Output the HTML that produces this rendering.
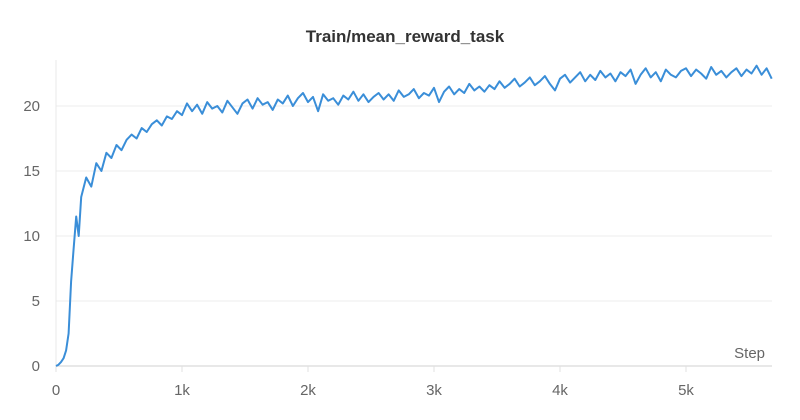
<!DOCTYPE html>
<html><head><meta charset="utf-8"><style>
body{margin:0;background:#fff;}
svg{display:block;font-family:"Liberation Sans",sans-serif;}
</style></head><body>
<svg id="chart" width="800" height="420">
<text x="405" y="42" text-anchor="middle" font-size="17" font-weight="bold" fill="#333">Train/mean_reward_task</text>
<g id="grid"></g>
<g id="axes"></g>
<path id="line" fill="none" stroke="#3a8ed8" stroke-width="2" stroke-linejoin="round"></path>
<text x="765" y="358" text-anchor="end" font-size="15" fill="#666">Step</text>
</svg>
<script>
const yTicks=[0,5,10,15,20];
const xTicks=[0,1000,2000,3000,4000,5000];
const xTickLabels=["0","1k","2k","3k","4k","5k"];
const earlySteps=[0,20,40,60,80,100,120,140,160,180,200];
const earlyValues=[0,0.1,0.3,0.6,1.2,2.5,6.5,9,11.5,10,13];
const laterValues=[
14.5,13.8,15.6,15,16.4,16,17,16.6,17.4,17.8,
17.5,18.3,18,18.6,18.9,18.5,19.2,19,19.6,19.3,
20.2,19.6,20.1,19.4,20.3,19.8,20,19.5,20.4,19.9,
19.4,20.2,20.5,19.8,20.6,20.1,20.3,19.7,20.5,20.2,
20.8,20,20.6,21,20.3,20.7,19.6,20.9,20.4,20.6,
20.1,20.8,20.5,21.1,20.4,20.9,20.3,20.7,21,20.5,
20.9,20.4,21.2,20.7,20.9,21.3,20.6,21,20.8,21.4,
20.3,21.1,21.5,20.9,21.3,21,21.7,21.2,21.5,21.1,
21.6,21.3,21.9,21.4,21.7,22.1,21.5,21.8,22.2,21.6,
21.9,22.3,21.7,21.2,22.1,22.4,21.8,22.2,22.6,21.9,
22.4,22,22.7,22.2,22.5,21.9,22.6,22.3,22.8,21.7,
22.4,22.9,22.2,22.6,21.9,22.8,22.4,22.2,22.7,22.9,
22.3,22.8,22.5,22.1,23,22.4,22.7,22.2,22.6,22.9,
22.3,22.8,22.5,23.1,22.4,22.9,22.1];
const laterStart=240, laterStride=40;
const X0=56,X1=772,Y0=366;
function xs(v){return X0+v*0.126;}
function ys(v){return Y0-v*13;}
const ns="http://www.w3.org/2000/svg";
const grid=document.getElementById('grid'),axes=document.getElementById('axes');
yTicks.forEach(t=>{
 if(t>0){const l=document.createElementNS(ns,'line');
 
 
 l.setAttribute('x1',X0);l.setAttribute('x2',X1);l.setAttribute('y1',ys(t));l.setAttribute('y2',ys(t));
 l.setAttribute('stroke','#eeeeee');grid.appendChild(l);}
 const tx=document.createElementNS(ns,'text');
 
 
 tx.setAttribute('x',40);tx.setAttribute('y',ys(t)+5);tx.setAttribute('text-anchor','end');
 tx.setAttribute('font-size','15');tx.setAttribute('fill','#666');tx.textContent=t;axes.appendChild(tx);
});
const ax=document.createElementNS(ns,'line');


ax.setAttribute('x1',X0);ax.setAttribute('x2',X1);ax.setAttribute('y1',Y0);ax.setAttribute('y2',Y0);ax.setAttribute('stroke','#e0e0e0');ax.setAttribute('stroke-width','1.5');axes.appendChild(ax);
const ay=document.createElementNS(ns,'line');


ay.setAttribute('x1',X0);ay.setAttribute('x2',X0);ay.setAttribute('y1',60);ay.setAttribute('y2',Y0+6);ay.setAttribute('stroke','#e8e8e8');axes.appendChild(ay);
xTicks.forEach((t,i)=>{
 const tk=document.createElementNS(ns,'line');
 
 
 tk.setAttribute('x1',xs(t));tk.setAttribute('x2',xs(t));tk.setAttribute('y1',Y0);tk.setAttribute('y2',Y0+6);tk.setAttribute('stroke','#e0e0e0');axes.appendChild(tk);
 const tx=document.createElementNS(ns,'text');
 
 
 tx.setAttribute('x',xs(t));tx.setAttribute('y',395);tx.setAttribute('text-anchor','middle');
 tx.setAttribute('font-size','15');tx.setAttribute('fill','#666');tx.textContent=xTickLabels[i];axes.appendChild(tx);
});
const pts=[];
earlySteps.forEach((s,i)=>pts.push([s,earlyValues[i]]));
laterValues.forEach((v,i)=>pts.push([laterStart+i*laterStride,v]));
document.getElementById('line').setAttribute('d',pts.map((p,i)=>(i?'L':'M')+xs(p[0]).toFixed(1)+','+ys(p[1]).toFixed(1)).join(''));
</script>
</body></html>
